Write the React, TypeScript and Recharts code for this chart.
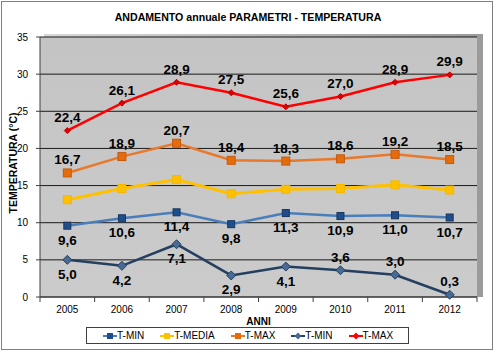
import React from "react";
import {
  LineChart,
  Line,
  XAxis,
  YAxis,
  CartesianGrid,
  LabelList,
} from "recharts";

// chart data
const years = ["2005", "2006", "2007", "2008", "2009", "2010", "2011", "2012"];
const tMinBlue = [9.6, 10.6, 11.4, 9.8, 11.3, 10.9, 11.0, 10.7];
const tMedia = [13.1, 14.6, 15.8, 13.9, 14.5, 14.6, 15.1, 14.4];
const tMaxOrange = [16.7, 18.9, 20.7, 18.4, 18.3, 18.6, 19.2, 18.5];
const tMinNavy = [5.0, 4.2, 7.1, 2.9, 4.1, 3.6, 3.0, 0.3];
const tMaxRed = [22.4, 26.1, 28.9, 27.5, 25.6, 27.0, 28.9, 29.9];
const yTicks = [0, 5, 10, 15, 20, 25, 30, 35];

const data = years.map((year, i) => ({
  year,
  tminA: tMinBlue[i],
  tmedia: tMedia[i],
  tmaxA: tMaxOrange[i],
  tminB: tMinNavy[i],
  tmaxB: tMaxRed[i],
}));

// layout
const W = 496;
const H = 353;
const PLOT_LEFT = 40;
const PLOT_RIGHT = 477;
const PLOT_TOP = 37;
const PLOT_BOTTOM = 297;
const BAND = (PLOT_RIGHT - PLOT_LEFT) / years.length;
const FONT = "'Liberation Sans', Arial, sans-serif";

const COLORS = {
  blueLine: "#4a7ebb",
  blueDot: "#1f4e8c",
  yellow: "#ffc000",
  orange: "#e8782a",
  orangeDot: "#e46c0a",
  navy: "#243f60",
  navyDot: "#4a6a96",
  red: "#ff0000",
};

// navy T-MIN: which labels sit above the point
const NAVY_ABOVE = [false, false, false, false, false, true, true, true];

const fmt = (v: number) => v.toFixed(1).replace(".", ",");

const squareDot = (fill: string, stroke: string, size: number) => (props: any) => {
  const { cx, cy, index } = props;
  if (cx == null || cy == null) return <g key={index} />;
  return (
    <rect
      key={index}
      x={cx - size / 2}
      y={cy - size / 2}
      width={size}
      height={size}
      fill={fill}
      stroke={stroke}
      strokeWidth={1}
    />
  );
};

const diamondDot = (fill: string, stroke: string, r: number) => (props: any) => {
  const { cx, cy, index } = props;
  if (cx == null || cy == null) return <g key={index} />;
  return (
    <polygon
      key={index}
      points={`${cx},${cy - r} ${cx + r},${cy} ${cx},${cy + r} ${cx - r},${cy}`}
      fill={fill}
      stroke={stroke}
      strokeWidth={1}
    />
  );
};

const makeLabel = (placement: (i: number) => boolean) => (props: any) => {
  const { x, y, value, index } = props;
  if (x == null || y == null) return null;
  const above = placement(index);
  return (
    <text
      key={index}
      x={x}
      y={above ? y - 8.5 : y + 19}
      textAnchor="middle"
      fontFamily={FONT}
      fontSize={13.5}
      fontWeight="bold"
      fill="#000"
    >
      {fmt(value)}
    </text>
  );
};

const XTick = (props: any) => {
  const { x, payload, index } = props;
  const last = index === years.length - 1;
  return (
    <g>
      <line
        x1={x - BAND / 2}
        x2={x - BAND / 2}
        y1={PLOT_BOTTOM}
        y2={PLOT_BOTTOM + 5}
        stroke="#404040"
      />
      {last && (
        <line
          x1={x + BAND / 2}
          x2={x + BAND / 2}
          y1={PLOT_BOTTOM}
          y2={PLOT_BOTTOM + 5}
          stroke="#404040"
        />
      )}
      <text
        x={x}
        y={PLOT_BOTTOM + 16}
        textAnchor="middle"
        fontFamily={FONT}
        fontSize={10}
        fill="#000"
      >
        {payload.value}
      </text>
    </g>
  );
};

const YTitle = () => (
  <text
    x={13}
    y={163}
    transform="rotate(-90 13 163)"
    textAnchor="middle"
    dominantBaseline="central"
    fontFamily={FONT}
    fontSize={10.5}
    fontWeight="bold"
    fill="#000"
  >
    TEMPERATURA  (°C)
  </text>
);

const legendItems = [
  { name: "T-MIN", line: COLORS.blueLine, marker: "square", fill: COLORS.blueDot },
  { name: "T-MEDIA", line: COLORS.yellow, marker: "square", fill: COLORS.yellow },
  { name: "T-MAX", line: COLORS.orange, marker: "square", fill: COLORS.orangeDot },
  { name: "T-MIN", line: COLORS.navy, marker: "diamond", fill: COLORS.navyDot },
  { name: "T-MAX", line: COLORS.red, marker: "diamond", fill: COLORS.red },
];

const LegendBox = () => (
  <div
    style={{
      position: "absolute",
      left: 86,
      top: 327,
      width: 323,
      height: 17,
      border: "1px solid #404040",
      background: "#fff",
      display: "flex",
      alignItems: "center",
      paddingLeft: 16,
      boxSizing: "border-box",
      fontFamily: FONT,
      fontSize: 10,
      color: "#000",
      whiteSpace: "nowrap",
    }}
  >
    {legendItems.map((it, i) => (
      <div
        key={i}
        style={{
          display: "flex",
          alignItems: "center",
          flexShrink: 0,
          marginRight: i === legendItems.length - 1 ? 0 : 16,
        }}
      >
        <svg width={14} height={8} style={{ display: "block" }}>
          <line x1={0} x2={14} y1={4} y2={4} stroke={it.line} strokeWidth={2} />
          {it.marker === "square" ? (
            <rect x={4} y={1} width={6} height={6} fill={it.fill} />
          ) : (
            <polygon points="7,0.5 10.5,4 7,7.5 3.5,4" fill={it.fill} />
          )}
        </svg>
        <span style={{ lineHeight: "10px" }}>{it.name}</span>
      </div>
    ))}
  </div>
);

export default function App() {
  return (
    <div
      style={{
        position: "absolute",
        left: 0,
        top: 0,
        width: W,
        height: H,
        background: "#fff",
      }}
    >
      {/* outer chart border */}
      <div
        style={{
          position: "absolute",
          left: 1,
          top: 1,
          width: 492,
          height: 349,
          border: "1px solid #7f7f7f",
          boxSizing: "border-box",
        }}
      />
      {/* 3d wall behind plot area */}
      <div
        style={{
          position: "absolute",
          left: PLOT_LEFT + 4,
          top: PLOT_TOP - 3,
          width: PLOT_RIGHT - PLOT_LEFT + 2,
          height: PLOT_BOTTOM - PLOT_TOP + 3,
          background: "linear-gradient(to right, #d8d8d8, #9a9a9a)",
        }}
      />
      <div
        style={{
          position: "absolute",
          left: 0,
          top: 10,
          width: W,
          textAlign: "center",
          fontFamily: FONT,
          fontSize: 10.6,
          fontWeight: "bold",
          color: "#000",
          lineHeight: "14px",
        }}
      >
        ANDAMENTO annuale PARAMETRI - TEMPERATURA
      </div>
      <div style={{ position: "absolute", left: 0, top: 0 }}>
        <LineChart
          width={W}
          height={H}
          data={data}
          margin={{ top: PLOT_TOP, right: W - PLOT_RIGHT, left: 0, bottom: 26 }}
        >
          <defs>
            <linearGradient id="plotBg" x1="0" y1="0" x2="0" y2="1">
              <stop offset="0%" stopColor="#c4c4c4" />
              <stop offset="100%" stopColor="#cbcbcb" />
            </linearGradient>
          </defs>
          <CartesianGrid
            vertical={false}
            stroke="#1a1a1a"
            strokeWidth={1}
            fill="url(#plotBg)"
            fillOpacity={1}
          />
          <XAxis
            dataKey="year"
            height={30}
            padding={{ left: BAND / 2, right: BAND / 2 }}
            axisLine={{ stroke: "#404040" }}
            tickLine={false}
            tick={<XTick />}
            interval={0}
            label={{
              value: "ANNI",
              position: "insideBottom",
              offset: 2,
              style: {
                fontFamily: FONT,
                fontSize: 10,
                fontWeight: "bold",
                fill: "#000",
              },
            }}
          />
          <YAxis
            width={PLOT_LEFT}
            domain={[0, 35]}
            ticks={yTicks}
            interval={0}
            tickSize={4}
            tickMargin={8}
            axisLine={{ stroke: "#404040" }}
            tickLine={{ stroke: "#404040" }}
            tick={{ fontFamily: FONT, fontSize: 10, fill: "#000" }}
            label={{ content: () => <YTitle /> }}
          />
          <Line
            dataKey="tminA"
            stroke={COLORS.blueLine}
            strokeWidth={2.5}
            dot={squareDot(COLORS.blueDot, "#17375e", 7)}
            isAnimationActive={false}
          >
            <LabelList dataKey="tminA" content={makeLabel(() => false)} />
          </Line>
          <Line
            dataKey="tmedia"
            stroke={COLORS.yellow}
            strokeWidth={3}
            dot={squareDot(COLORS.yellow, "#f2b800", 8)}
            isAnimationActive={false}
          />
          <Line
            dataKey="tmaxA"
            stroke={COLORS.orange}
            strokeWidth={2.5}
            dot={squareDot(COLORS.orangeDot, "#c55a11", 8)}
            isAnimationActive={false}
          >
            <LabelList dataKey="tmaxA" content={makeLabel(() => true)} />
          </Line>
          <Line
            dataKey="tminB"
            stroke={COLORS.navy}
            strokeWidth={2.5}
            dot={diamondDot(COLORS.navyDot, COLORS.navy, 4.5)}
            isAnimationActive={false}
          >
            <LabelList dataKey="tminB" content={makeLabel((i) => NAVY_ABOVE[i])} />
          </Line>
          <Line
            dataKey="tmaxB"
            stroke={COLORS.red}
            strokeWidth={2.5}
            dot={diamondDot("#e00000", "#c00000", 3)}
            isAnimationActive={false}
          >
            <LabelList dataKey="tmaxB" content={makeLabel(() => true)} />
          </Line>
        </LineChart>
      </div>
      <LegendBox />
    </div>
  );
}
